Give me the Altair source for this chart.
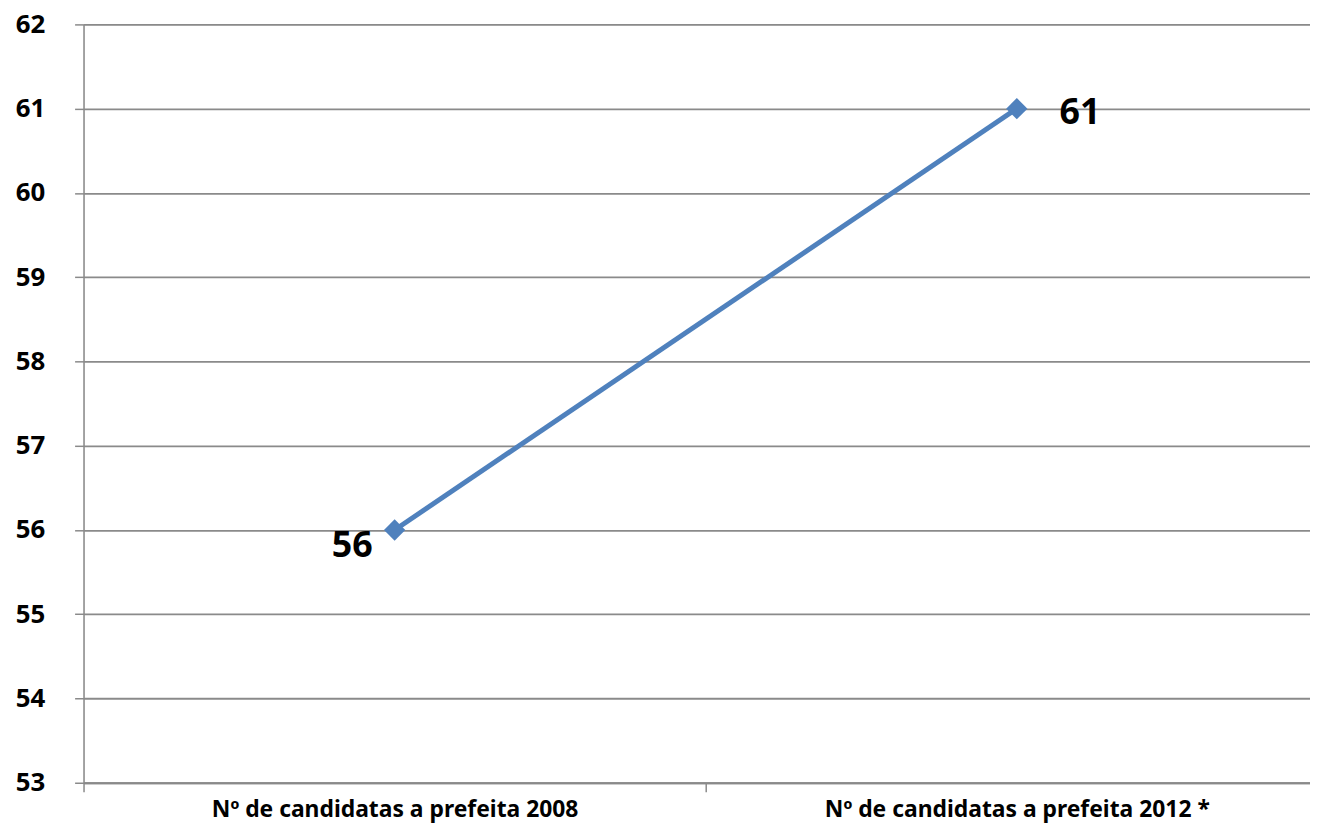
import altair as alt
import pandas as pd

categories = ["Nº de candidatas a prefeita 2008", "Nº de candidatas a prefeita 2012 *"]
values = [56, 61]
y_ticks = [53, 54, 55, 56, 57, 58, 59, 60, 61, 62]

df = pd.DataFrame({"cat": categories, "val": values})

FONT = "Noto Sans"
GRID = "#8a8a8a"
BLUE = "#4F81BD"

x = alt.X("cat:N", sort=categories, title=None,
          scale=alt.Scale(type="band", range=[0, 1252], paddingInner=0, paddingOuter=0),
          axis=alt.Axis(labelAngle=0, labelFont=FONT, labelFontSize=23, labelFontWeight="bold",
                        labelColor="black", labelPadding=7, labelLimit=0, tickBand="extent", tickSize=9,
                        tickColor=GRID, tickWidth=1.5, domainColor=GRID, domainWidth=2,
                        grid=False, labelBaseline="top"))
y = alt.Y("val:Q", title=None,
          scale=alt.Scale(domain=[53, 62], nice=False, zero=False),
          axis=alt.Axis(values=y_ticks, labelFont=FONT, labelFontSize=26, labelFontWeight="bold",
                        labelColor="black", labelPadding=30, tickSize=9, tickColor=GRID,
                        tickWidth=1.5, domainColor=GRID, domainWidth=1.5, gridColor=GRID,
                        gridWidth=1.8, grid=True, format="d"))

base = alt.Chart(df)
line = base.mark_line(color=BLUE, strokeWidth=5, clip=False).encode(x=x, y=y)
pts = base.mark_point(shape="diamond", filled=True, color=BLUE, size=460, opacity=1).encode(x=x, y=y)

lbl_left = base.transform_filter(alt.datum.cat == categories[0]).mark_text(
    font=FONT, fontSize=36, fontWeight="bold", color="black", align="right",
    baseline="middle", dx=-22, dy=16).encode(x=x, y=y, text=alt.Text("val:Q", format="d"))
lbl_right = base.transform_filter(alt.datum.cat == categories[1]).mark_text(
    font=FONT, fontSize=36, fontWeight="bold", color="black", align="left",
    baseline="middle", dx=43, dy=4).encode(x=x, y=y, text=alt.Text("val:Q", format="d"))

chart = alt.layer(line, pts, lbl_left, lbl_right).properties(
    width=1234, height=763,
    autosize=alt.AutoSizeParams(type="none"),
    padding={"left": 76, "top": 14, "right": 0, "bottom": 40},
).configure_view(stroke=None).configure(background="white")

chart.save("out.html", embed_options={"renderer": "svg", "actions": False})
